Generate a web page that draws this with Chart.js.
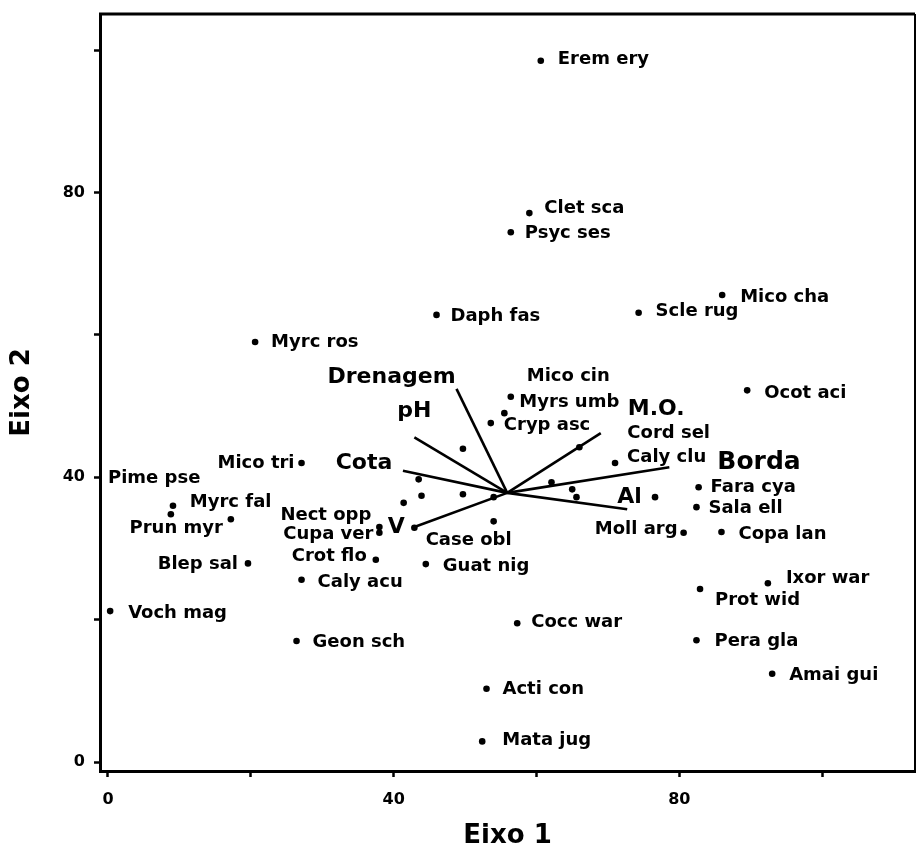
<!DOCTYPE html>
<html><head><meta charset="utf-8">
<script src="https://cdn.jsdelivr.net/npm/chart.js@4/dist/chart.umd.min.js"></script>
<style>html,body{margin:0;padding:0;background:#fff}#wrap{width:919px;height:850px}</style>
</head><body><div id="wrap"><canvas id="c" width="919" height="850"></canvas></div>
<script>
// ---- data ----
const speciesNames = ['Erem ery','Clet sca','Psyc ses','Daph fas','Myrc ros','Scle rug','Mico cha','Ocot aci',
  'Mico cin','Myrs umb','Cryp asc','Cord sel','Caly clu','Mico tri','Pime pse','Myrc fal','Prun myr','Blep sal',
  'Nect opp','Cupa ver','Crot flo','Case obl','Guat nig','Caly acu','Voch mag','Geon sch','Cocc war','Acti con',
  'Mata jug','Ixor war','Prot wid','Pera gla','Amai gui','Fara cya','Sala ell','Copa lan','Moll arg'];
const speciesX = [60.6,59.0,56.4,46.0,20.6,74.3,86.0,89.5,
  56.4,55.5,53.6,66.0,71.0,27.1,9.1,8.8,17.2,19.6,
  38.0,38.0,37.5,54.0,44.5,27.1,0.3,26.4,57.3,53.0,
  52.4,92.4,82.9,82.4,93.0,82.7,82.4,85.9,80.6];
const speciesY = [98.5,77.1,74.4,62.8,59.0,63.1,65.6,52.2,
  51.3,49.0,47.6,44.2,42.0,42.0,36.0,34.8,34.1,27.9,
  33.0,32.2,28.4,33.8,27.8,25.6,21.2,17.0,19.5,10.3,
  2.9,25.1,24.3,17.1,12.4,38.6,35.8,32.3,32.2];
const otherX = [49.7,43.5,43.9,41.4,49.7,54.0,62.1,76.6,42.9,65.0,65.6];
const otherY = [44.0,39.7,37.4,36.4,37.6,37.2,39.3,37.2,32.9,38.3,37.2];
const envNames = ['Drenagem','pH','Cota','V','M.O.','Borda','Al'];
const envX = [48.8,42.9,41.3,42.9,69.0,78.6,72.7];
const envY = [52.4,45.6,40.9,33.0,46.2,41.4,35.5];
const centroid = [55.9, 37.8];
const tickLabelValues = [0,40,80];

// ---- label placement (pixels: dx, dy, align) ----
const labelPlace = {
 'Erem ery':[17,-1,'left'],'Clet sca':[15,-5,'left'],'Psyc ses':[14,1,'left'],'Daph fas':[14,1,'left'],
 'Myrc ros':[16,0,'left'],'Scle rug':[17,-1,'left'],'Mico cha':[18,2,'left'],'Ocot aci':[17,3,'left'],
 'Mico cin':[16,-20,'left'],'Myrs umb':[15,-11,'left'],'Cryp asc':[13,2,'left'],'Cord sel':[48,-14,'left'],
 'Caly clu':[12,-6,'left'],'Mico tri':[-7,0,'right'],'Pime pse':[-65,-27,'left'],'Myrc fal':[19,-12,'left'],
 'Prun myr':[-8,9,'right'],'Blep sal':[-10,1,'right'],'Nect opp':[-8,-12,'right'],'Cupa ver':[-6,2,'right'],
 'Crot flo':[-9,-3,'right'],'Case obl':[-68,19,'left'],'Guat nig':[17,2,'left'],'Caly acu':[16,3,'left'],
 'Voch mag':[18,2,'left'],'Geon sch':[16,1,'left'],'Cocc war':[14,-1,'left'],'Acti con':[16,1,'left'],
 'Mata jug':[20,-1,'left'],'Ixor war':[18,-5,'left'],'Prot wid':[15,11,'left'],'Pera gla':[18,1,'left'],
 'Amai gui':[17,2,'left'],'Fara cya':[12,0,'left'],'Sala ell':[12,1,'left'],'Copa lan':[17,2,'left'],
 'Moll arg':[-6,-3,'right']
};
const envPlace = {
 'Drenagem':[-65,-12,'center',22],'pH':[0,-26,'center',22],'Cota':[-39,-8,'center',22],'V':[-18,0,'center',22],
 'M.O.':[27,-24,'left',22],'Borda':[48,-5,'left',25],'Al':[-10,-12,'left',22]
};

const FONT = '"DejaVu Sans", sans-serif';
Chart.defaults.font.family = FONT;
Chart.defaults.color = '#000';

const datasets = [
  { data: speciesX.map((x,i)=>({x, y: speciesY[i]})), pointRadius: 3.3, pointBackgroundColor:'#000', pointBorderWidth:0, showLine:false },
  { data: otherX.map((x,i)=>({x, y: otherY[i]})), pointRadius: 3.3, pointBackgroundColor:'#000', pointBorderWidth:0, showLine:false }
];
envNames.forEach((n,i)=>{
  datasets.push({ data:[{x:centroid[0],y:centroid[1]},{x:envX[i],y:envY[i]}], showLine:true, borderColor:'#000',
    borderWidth:2.6, pointRadius:0, fill:false });
});

const labelPlugin = {
  id:'labels',
  afterDatasetsDraw(chart){
    const ctx = chart.ctx;
    ctx.save();
    ctx.fillStyle = '#000';
    ctx.textBaseline = 'middle';
    ctx.font = 'bold 18px ' + FONT;
    chart.getDatasetMeta(0).data.forEach((el,i)=>{
      const n = speciesNames[i]; const p = labelPlace[n];
      ctx.textAlign = p[2];
      ctx.fillText(n, el.x + p[0], el.y + p[1]);
    });
    envNames.forEach((n,i)=>{
      const el = chart.getDatasetMeta(2+i).data[1]; const p = envPlace[n];
      ctx.font = 'bold ' + p[3] + 'px ' + FONT;
      ctx.textAlign = p[2];
      ctx.fillText(n, el.x + p[0], el.y + p[1]);
    });
    ctx.restore();
  },
  afterDraw(chart){
    const {ctx, chartArea:a} = chart;
    ctx.save();
    ctx.strokeStyle = '#000';
    ctx.lineWidth = 3;
    ctx.beginPath(); ctx.moveTo(a.left-1, a.top); ctx.lineTo(a.right, a.top); ctx.stroke();
    ctx.lineWidth = 2;
    ctx.beginPath(); ctx.moveTo(a.right, a.top); ctx.lineTo(a.right, a.bottom); ctx.stroke();
    ctx.restore();
  }
};

const tickCb = v => tickLabelValues.includes(v) ? String(v) : '';

new Chart(document.getElementById('c'), {
  type:'scatter',
  data:{ datasets },
  options:{
    responsive:false, animation:false, devicePixelRatio:1, events:[],
    layout:{ padding:{ top:14, right:3, left:0, bottom:0 } },
    plugins:{ legend:{display:false}, tooltip:{enabled:false} },
    scales:{
      x:{ type:'linear', min:-1.12, max:113,
        afterFit: s => { s.height = 79; s.paddingLeft = 0; s.paddingRight = 0; },
        border:{ display:true, color:'#000', width:3 },
        grid:{ display:true, drawOnChartArea:false, drawTicks:true, tickLength:6, tickWidth:2.5, tickColor:'#000' },
        ticks:{ stepSize:20, includeBounds:false, autoSkip:false, maxRotation:0, padding:13, callback: tickCb,
          font:{ size:16, weight:'bold' }, color:'#000' },
        title:{ display:true, text:'Eixo 1', font:{ size:26, weight:'bold', lineHeight:1 }, color:'#000', padding:{top:0,bottom:1} }
      },
      y:{ type:'linear', min:-1.26, max:105.06,
        afterFit: s => { s.width = 100; s.paddingTop = 0; s.paddingBottom = 0; },
        border:{ display:true, color:'#000', width:3 },
        grid:{ display:true, drawOnChartArea:false, drawTicks:true, tickLength:6, tickWidth:2.5, tickColor:'#000' },
        ticks:{ stepSize:20, includeBounds:false, autoSkip:false, padding:9, callback: tickCb,
          font:{ size:16, weight:'bold' }, color:'#000' },
        title:{ display:true, text:'Eixo 2', font:{ size:26, weight:'bold', lineHeight:1 }, color:'#000', padding:{top:9,bottom:0} }
      }
    }
  },
  plugins:[labelPlugin]
});
</script></body></html>
